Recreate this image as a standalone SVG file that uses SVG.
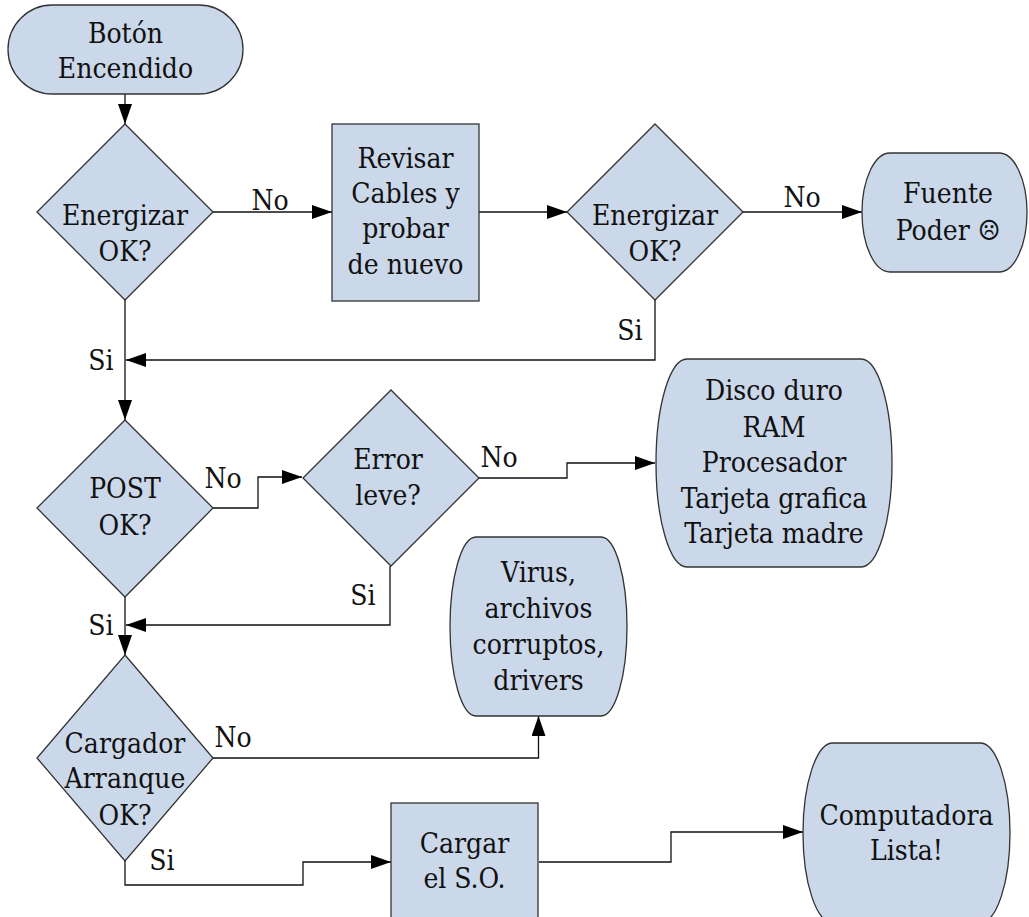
<svg xmlns="http://www.w3.org/2000/svg" width="1029" height="917" viewBox="0 0 1029 917">
<defs>
<marker id="ah" viewBox="0 0 20 14" refX="20" refY="7" markerWidth="20" markerHeight="14" markerUnits="userSpaceOnUse" orient="auto">
<path d="M0,0 L20,7 L0,14 z" fill="#000"/>
</marker>
<style>
.n{fill:#cbd8ea;stroke:#333;stroke-width:1.3}
text{font-family:'DejaVu Serif Condensed','DejaVu Serif',serif;font-stretch:condensed;font-size:28px;fill:#111;text-anchor:middle}
.c{fill:none;stroke:#111;stroke-width:1.3;marker-end:url(#ah)}
</style>
</defs>
<rect width="1029" height="917" fill="#fff"/>
<g id="connectors">
<path class="c" d="M125,94 V124"/>
<path class="c" d="M213,212 H332"/>
<path class="c" d="M479,212 H567"/>
<path class="c" d="M743,212 H862"/>
<path class="c" d="M655,300 V360 H126"/>
<path class="c" d="M125,300 V420"/>
<path class="c" d="M213,508 H258 V477 H302"/>
<path class="c" d="M479,478 H567 V463 H655"/>
<path class="c" d="M390,566 V625 H126"/>
<path class="c" d="M125,597 V655"/>
<path class="c" d="M213,758 H538.5 V716"/>
<path class="c" d="M125,861 V885 H303 V862 H391"/>
<path class="c" d="M539,862 H671 V832 H803"/>
<text x="270" y="210">No</text>
<text x="802" y="207">No</text>
<text x="630" y="340">Si</text>
<text x="101" y="370">Si</text>
<text x="223" y="488">No</text>
<text x="499" y="467">No</text>
<text x="363" y="605">Si</text>
<text x="101" y="635">Si</text>
<text x="233" y="747">No</text>
<text x="162" y="870">Si</text>
</g>
<g id="n-boton">
<rect class="n" x="8" y="5" width="235" height="89" rx="44.5" ry="44.5"/>
<text x="125.5" y="43">Botón</text>
<text x="125.5" y="78">Encendido</text>
</g>
<g id="n-energizar1">
<polygon class="n" points="125,124 213,212 125,300 37,212"/>
<text x="125" y="225">Energizar</text>
<text x="125" y="261">OK?</text>
</g>
<g id="n-revisar">
<rect class="n" x="332" y="124" width="147" height="177"/>
<text x="405.5" y="168">Revisar</text>
<text x="405.5" y="203">Cables y</text>
<text x="405.5" y="238">probar</text>
<text x="405.5" y="274">de nuevo</text>
</g>
<g id="n-energizar2">
<polygon class="n" points="655,124 743,212 655,300 567,212"/>
<text x="655" y="225">Energizar</text>
<text x="655" y="261">OK?</text>
</g>
<g id="n-fuente">
<rect class="n" x="862" y="153" width="165" height="119" rx="28" ry="59.5"/>
<text x="948" y="203">Fuente</text>
<text x="948" y="240">Poder ☹</text>
</g>
<g id="n-post">
<polygon class="n" points="125,420 213,508 125,597 37,508"/>
<text x="125" y="498">POST</text>
<text x="125" y="535">OK?</text>
</g>
<g id="n-error">
<polygon class="n" points="391,390 479,478 391,566 303,478"/>
<text x="388" y="469">Error</text>
<text x="388" y="505">leve?</text>
</g>
<g id="n-disco">
<rect class="n" x="656" y="359" width="236" height="208" rx="31" ry="104"/>
<text x="774" y="400">Disco duro</text>
<text x="774" y="437">RAM</text>
<text x="774" y="472">Procesador</text>
<text x="774" y="508">Tarjeta grafica</text>
<text x="774" y="543">Tarjeta madre</text>
</g>
<g id="n-virus">
<rect class="n" x="450" y="537" width="177" height="179" rx="26" ry="89.5"/>
<text x="538.5" y="582">Virus,</text>
<text x="538.5" y="618">archivos</text>
<text x="538.5" y="654">corruptos,</text>
<text x="538.5" y="690">drivers</text>
</g>
<g id="n-cargador">
<polygon class="n" points="125,655 213,758 125,861 37,758"/>
<text x="125" y="753">Cargador</text>
<text x="125" y="788">Arranque</text>
<text x="125" y="825">OK?</text>
</g>
<g id="n-cargar">
<rect class="n" x="391" y="803" width="147" height="177"/>
<text x="464.5" y="853">Cargar</text>
<text x="464.5" y="888">el S.O.</text>
</g>
<g id="n-computadora">
<rect class="n" x="803" y="743" width="207" height="180" rx="30" ry="90"/>
<text x="906.5" y="825">Computadora</text>
<text x="906.5" y="860">Lista!</text>
</g>
</svg>
